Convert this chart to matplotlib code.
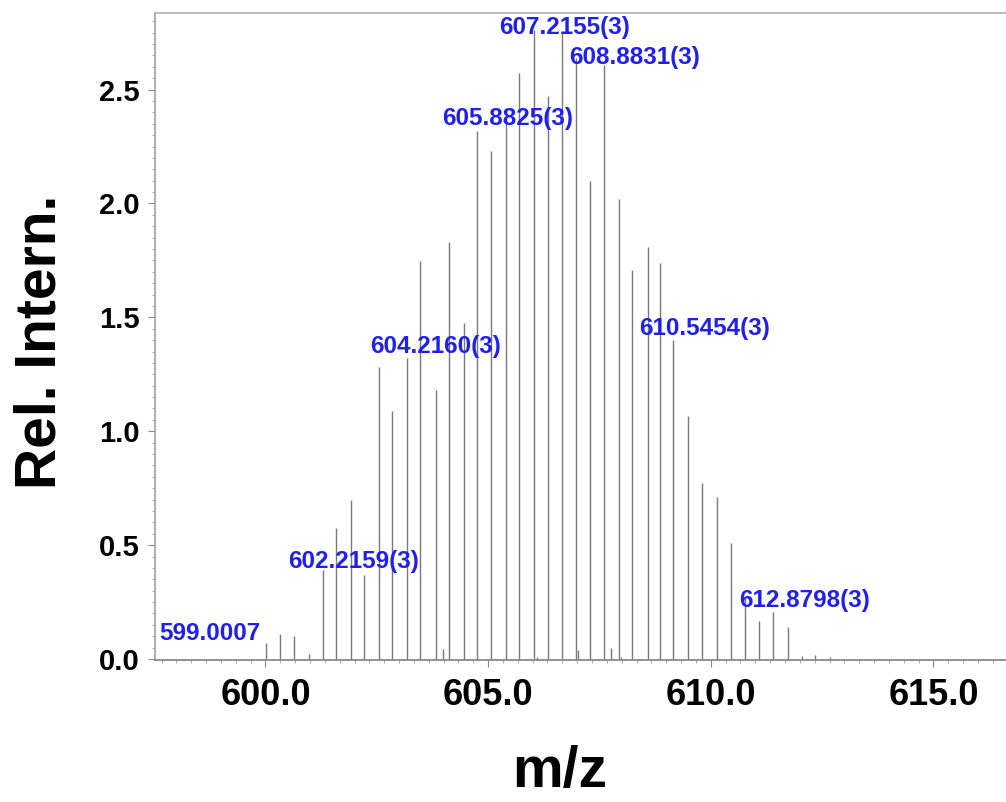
import numpy as np
import matplotlib
matplotlib.use("Agg")
import matplotlib.pyplot as plt
from matplotlib.ticker import MultipleLocator, AutoMinorLocator, FormatStrFormatter

plt.rcParams["font.family"] = ["Liberation Sans", "DejaVu Sans"]

# --------------- DATA -------------------------------------------------------
# stick spectrum (m/z, relative intensity)
mz = [600.01, 600.33, 600.65, 600.98, 601.29, 601.59, 601.92, 602.22,
      602.55, 602.85, 603.17, 603.48, 603.82, 604.12, 604.46, 604.76,
      605.06, 605.40, 605.69, 606.04, 606.34, 606.67, 606.98, 607.29,
      607.60, 607.93, 608.23, 608.58, 608.86, 609.16, 609.50, 609.81,
      610.13, 610.45, 610.77, 611.09, 611.40, 611.73, 612.04, 612.34,
      612.68]
intensity = [0.07, 0.11, 0.10, 0.02, 0.39, 0.575, 0.70, 0.37,
             1.28, 1.087, 1.32, 1.746, 1.18, 1.83, 1.476, 2.32,
             2.23, 2.40, 2.574, 2.76, 2.473, 2.75, 2.64, 2.10,
             2.61, 2.02, 1.71, 1.81, 1.74, 1.40, 1.067, 0.774,
             0.71, 0.51, 0.27, 0.168, 0.208, 0.14, 0.013, 0.018,
             0.01]

# small side peaks near the baseline
mz_small = [603.99, 606.09, 607.02, 607.76, 607.99]
int_small = [0.044, 0.01, 0.04, 0.05, 0.01]

# peak annotations (text, x, y)
ann_text = ["599.0007", "602.2159(3)", "604.2160(3)", "605.8825(3)",
            "607.2155(3)", "608.8831(3)", "610.5454(3)", "612.8798(3)"]
ann_x = [598.756, 601.97, 603.82, 605.43, 606.715, 608.285, 609.854, 612.096]
ann_y = [0.11, 0.43, 1.37, 2.375, 2.774, 2.643, 1.453, 0.259]

# --------------- PLOT -------------------------------------------------------
fig = plt.figure(figsize=(10.06, 8.02), dpi=100)
ax = fig.add_axes([0.1541, 0.177, 0.8459, 0.8067])

ax.vlines(mz, 0, intensity, color="#7a7a7a", lw=1.0)
ax.vlines(mz_small, 0, int_small, color="#7a7a7a", lw=1.0)

for t, x, y in zip(ann_text, ann_x, ann_y):
    ax.text(x, y, t, color="#1f1fee", fontsize=17.5, fontweight="bold",
            ha="center", va="center")

ax.set_xlim(597.52, 616.63)
ax.set_ylim(-0.0044, 2.836)

ax.xaxis.set_major_locator(MultipleLocator(5))
ax.xaxis.set_minor_locator(AutoMinorLocator(15))
ax.yaxis.set_major_locator(MultipleLocator(0.5))
ax.yaxis.set_minor_locator(MultipleLocator(0.05))
ax.xaxis.set_major_formatter(FormatStrFormatter("%.1f"))
ax.yaxis.set_major_formatter(FormatStrFormatter("%.1f"))

ax.tick_params(axis="x", which="major", length=5, color="#888888",
               labelsize=26, pad=8)
ax.tick_params(axis="y", which="major", length=5, color="#888888",
               labelsize=21, pad=6)
ax.tick_params(which="minor", length=2.5, color="#999999")
for lab in ax.get_xticklabels() + ax.get_yticklabels():
    lab.set_fontweight("bold")

ax.spines["right"].set_visible(False)
ax.spines["top"].set_color("#b0b0b0")
ax.spines["left"].set_color("#a0a0a0")
ax.spines["bottom"].set_color("#808080")
for s in ax.spines.values():
    s.set_linewidth(1.2)

fig.text(0.0405, 0.574, "Rel. Intern.", rotation=90, fontsize=41,
         fontweight="bold", ha="center", va="center")
fig.text(0.556, 0.038, "m/z", fontsize=41, fontweight="bold",
         ha="center", va="center")

fig.savefig("out.png", dpi=100, facecolor="white")
